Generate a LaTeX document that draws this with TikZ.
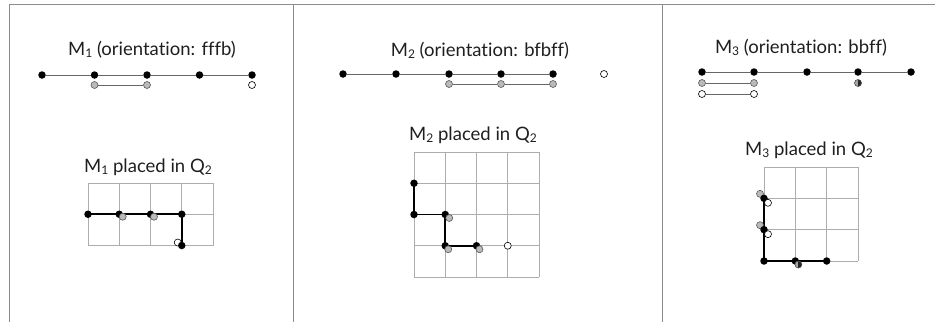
\documentclass[tikz,border=0pt]{standalone}
\usepackage{fontspec}
\setmainfont{Lato}[Ligatures={NoCommon}]
\newcommand{\sbs}[1]{\raisebox{-0.1em}{\fontsize{12}{12}\selectfont #1}}
\tikzset{
 bdot/.style={circle,fill=black,inner sep=0pt,minimum size=7.5pt},
 gdot/.style={circle,fill=black!27,draw=black!65,line width=0.6pt,inner sep=0pt,minimum size=7pt},
 wdot/.style={circle,fill=white,draw=black,line width=0.6pt,inner sep=0pt,minimum size=7pt},
 hdot/.style={circle,fill=black!35,draw=black!70,line width=0.6pt,inner sep=0pt,minimum size=7pt,
   path picture={\fill[black!85] (path picture bounding box.north) rectangle (path picture bounding box.south east);}},
 mline/.style={draw=black!60,line width=1pt},
 pathline/.style={black,line width=1.6pt},
 gridline/.style={black!32,line width=0.8pt},
 frame/.style={black!45,line width=0.9pt},
 ttl/.style={font=\fontsize{18.5}{22}\selectfont,text=black!88,inner sep=0pt}
}
\begin{document}
\begin{tikzpicture}[x=1pt,y=-1pt]
\useasboundingbox (0,0) rectangle (935,322);
% frame
\draw[frame] (9,322) -- (9,4) -- (935,4);
\draw[frame] (293,4) -- (293,322);
\draw[frame] (662,4) -- (662,322);

%================ Panel 1
\node[ttl] (t1) at (152,50) {M\sbs{1} (orientation: fffb)};
\foreach \i/\x in {1/42,2/94.5,3/147,4/199.5,5/252}{\node[bdot] (a\i) at (\x,75) {};}
\draw[mline] (a1) -- (a2) -- (a3) -- (a4) -- (a5);
\node[gdot] (ag2) at (94.5,85) {};
\node[gdot] (ag3) at (147,85) {};
\draw[mline] (ag2) -- (ag3);
\node[wdot] (aw5) at (252,85) {};

\node[ttl] (u1) at (148,167) {M\sbs{1} placed in Q\sbs{2}};
\foreach \k in {0,...,4}{\draw[gridline] (88+\k*31.25,183) -- (88+\k*31.25,245.5);}
\foreach \k in {0,...,2}{\draw[gridline] (88,183+\k*31.25) -- (213,183+\k*31.25);}
\coordinate (q1) at (88,214.25);
\coordinate (q2) at (119.25,214.25);
\coordinate (q3) at (150.5,214.25);
\coordinate (q4) at (181.75,214.25);
\coordinate (q5) at (181.75,245.5);
\draw[pathline] (q1) -- (q2) -- (q3) -- (q4) -- (q5);
\node[wdot] (qw5) at ([shift={(-4,-3)}]q5) {};
\foreach \i in {1,...,5}{\node[bdot] (qb\i) at (q\i) {};}
\node[gdot] (qg2) at ([shift={(3.5,2.5)}]q2) {};
\node[gdot] (qg3) at ([shift={(3.5,2.5)}]q3) {};

%================ Panel 2
\node[ttl] (t2) at (480,51) {M\sbs{2} (orientation: bfbff)};
\foreach \i/\x in {1/343,2/396,3/449,4/501,5/553}{\node[bdot] (b\i) at (\x,74) {};}
\draw[mline] (b1) -- (b2) -- (b3) -- (b4) -- (b5);
\node[gdot] (bg3) at (449,84) {};
\node[gdot] (bg4) at (501,84) {};
\node[gdot] (bg5) at (553,84) {};
\draw[mline] (bg3) -- (bg4) -- (bg5);
\node[wdot] (bw6) at (604,74) {};

\node[ttl] (u2) at (473,135) {M\sbs{2} placed in Q\sbs{2}};
\foreach \k in {0,...,4}{\draw[gridline] (414+\k*31.25,152) -- (414+\k*31.25,277);}
\foreach \k in {0,...,4}{\draw[gridline] (414,152+\k*31.25) -- (539,152+\k*31.25);}
\coordinate (r1) at (414,183.25);
\coordinate (r2) at (414,214.5);
\coordinate (r3) at (445.25,214.5);
\coordinate (r4) at (445.25,245.75);
\coordinate (r5) at (476.5,245.75);
\draw[pathline] (r1) -- (r2) -- (r3) -- (r4) -- (r5);
\foreach \i in {1,...,5}{\node[bdot] (rb\i) at (r\i) {};}
\node[gdot] (rg3) at ([shift={(4,3.5)}]r3) {};
\node[gdot] (rg4) at ([shift={(3,3.5)}]r4) {};
\node[gdot] (rg5) at ([shift={(3,3.5)}]r5) {};
\node[wdot] (rw6) at (507.75,245.75) {};

%================ Panel 3
\node[ttl] (t3) at (801,48) {M\sbs{3} (orientation: bbff)};
\foreach \i/\x in {1/702,2/754,3/807,4/858,5/911}{\node[bdot] (c\i) at (\x,72) {};}
\draw[mline] (c1) -- (c2) -- (c3) -- (c4) -- (c5);
\node[gdot] (cg1) at (702,83) {};
\node[gdot] (cg2) at (754,83) {};
\draw[mline] (cg1) -- (cg2);
\node[hdot] (ch4) at (858,83) {};
\node[wdot] (cw1) at (702,94) {};
\node[wdot] (cw2) at (754,94) {};
\draw[mline] (cw1) -- (cw2);

\node[ttl] (u3) at (809,150) {M\sbs{3} placed in Q\sbs{2}};
\foreach \k in {0,...,3}{\draw[gridline] (764+\k*31.33,167) -- (764+\k*31.33,261);}
\foreach \k in {0,...,3}{\draw[gridline] (764,167+\k*31.33) -- (858,167+\k*31.33);}
\coordinate (s1) at (764,198.33);
\coordinate (s2) at (764,229.67);
\coordinate (s3) at (764,261);
\coordinate (s4) at (795.33,261);
\coordinate (s5) at (826.67,261);
\draw[pathline] (s1) -- (s2) -- (s3) -- (s4) -- (s5);
\node[gdot] (sg1) at ([shift={(-4,-4.5)}]s1) {};
\node[gdot] (sg2) at ([shift={(-4,-4.5)}]s2) {};
\foreach \i in {1,...,5}{\node[bdot] (sb\i) at (s\i) {};}
\node[wdot] (sw1) at ([shift={(4,4.5)}]s1) {};
\node[wdot] (sw2) at ([shift={(4,4.5)}]s2) {};
\node[hdot] (sh4) at ([shift={(3,3.5)}]s4) {};
\end{tikzpicture}
\end{document}
